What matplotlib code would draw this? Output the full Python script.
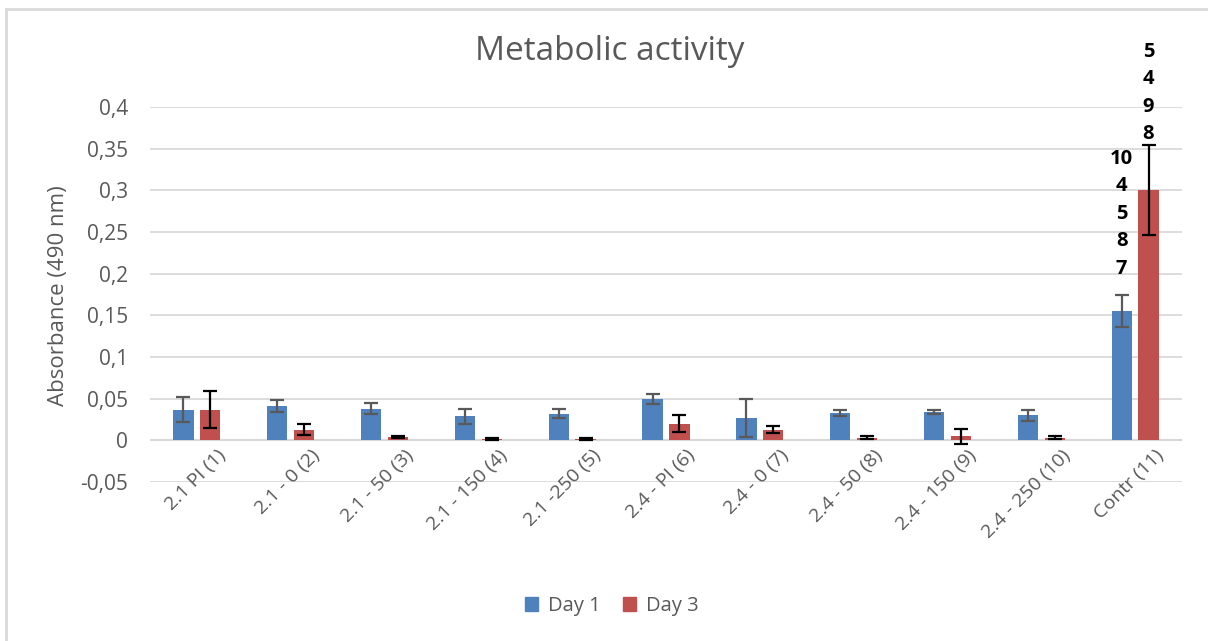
import matplotlib
matplotlib.use("Agg")
import matplotlib.pyplot as plt
import numpy as np
from matplotlib.patches import Patch, Rectangle
from matplotlib.ticker import FuncFormatter, MultipleLocator

samples = ["2.1 PI (1)", "2.1 - 0 (2)", "2.1 - 50 (3)", "2.1 - 150 (4)",
           "2.1 -250 (5)", "2.4 - PI (6)", "2.4 - 0 (7)", "2.4 - 50 (8)",
           "2.4 - 150 (9)", "2.4 - 250 (10)", "Contr (11)"]

day1 = [0.037, 0.041, 0.038, 0.029, 0.032, 0.050, 0.027, 0.033, 0.034, 0.030, 0.155]
day1_err = [0.0145, 0.007, 0.0064, 0.0088, 0.0054, 0.006, 0.023, 0.0034, 0.0026, 0.0064, 0.019]

day3 = [0.037, 0.013, 0.004, 0.002, 0.0016, 0.020, 0.013, 0.0034, 0.005, 0.0034, 0.300]
day3_err = [0.0225, 0.0064, 0.0012, 0.0012, 0.001, 0.0104, 0.004, 0.0015, 0.0092, 0.0015, 0.054]

# groups that differ significantly from the control, per day
day1_marks = ["10", "4", "5", "8", "7"]
day3_marks = ["5", "4", "9", "8"]

BLUE = "#4F81BD"
RED = "#C0504D"
GREY = "#595959"
GRID = "#D9D9D9"
FONT = "Open Sans"


def comma_fmt(val, pos):
    if abs(val) < 1e-9:
        return "0"
    return f"{val:g}".replace(".", ",")


def main():
    fig = plt.figure(figsize=(12.08, 6.41), dpi=100)
    ax = fig.add_axes([150 / 1208, 1 - 482 / 641, (1182 - 150) / 1208, (482 - 107) / 641])

    # chart area frame
    fig.patches.append(Rectangle((6 / 1208, -0.1), 1.2, 1 - 9 / 641 + 0.1,
                                 transform=fig.transFigure, fill=False,
                                 edgecolor=GRID, lw=2))

    x = np.arange(len(samples))
    width = 0.216
    shift = 0.143

    ax.bar(x - shift, day1, width, color=BLUE, zorder=2)
    ax.bar(x + shift, day3, width, color=RED, zorder=2)
    ax.errorbar(x - shift, day1, yerr=day1_err, fmt="none", ecolor=GREY,
                elinewidth=1.6, capsize=4.7, capthick=1.6, zorder=3)
    ax.errorbar(x + shift, day3, yerr=day3_err, fmt="none", ecolor="black",
                elinewidth=1.6, capsize=4.7, capthick=1.6, zorder=3)

    # stacked group numbers above the control bars
    last = len(samples) - 1
    for xpos, val, marks in [(last - shift, day1[last], day1_marks),
                             (last + shift, day3[last], day3_marks)]:
        ax.annotate("\n".join(marks), (xpos, val), xytext=(0, 70),
                    textcoords="offset points", ha="center", va="center",
                    fontsize=14.5, fontweight="bold", family=FONT,
                    linespacing=1.5, annotation_clip=False, zorder=4)

    ax.set_xlim(-0.5, len(samples) - 0.5)
    ax.set_ylim(-0.05, 0.4)
    ax.yaxis.set_major_locator(MultipleLocator(0.05))
    ax.yaxis.set_major_formatter(FuncFormatter(comma_fmt))
    ax.grid(axis="y", color=GRID, lw=1.3, zorder=0)
    ax.set_axisbelow(True)
    for side in ["top", "right", "left", "bottom"]:
        ax.spines[side].set_visible(False)
    ax.axhline(0, color=GRID, lw=1.6, zorder=1)

    ax.tick_params(axis="y", length=0, pad=16, labelsize=15, labelcolor=GREY)
    for lab in ax.get_yticklabels():
        lab.set_family(FONT)

    # category labels sit against the zero line, tilted 45 degrees
    ax.set_xticks([])
    for i, name in enumerate(samples):
        ax.annotate(name, (i, 0), xytext=(19, -9), textcoords="offset points",
                    rotation=45, rotation_mode="anchor", ha="right", va="center",
                    fontsize=14, color=GREY, family=FONT, annotation_clip=False)

    ax.set_ylabel("Absorbance (490 nm)", fontsize=16, color=GREY, family=FONT)
    ax.yaxis.set_label_coords(-81 / 1032, 0.5 - 1 / 375)

    fig.text(610 / 1208, 1 - 52 / 641, "Metabolic activity", ha="center",
             va="center", fontsize=24, color=GREY, family=FONT)

    handles = [Patch(color=BLUE, label="Day 1"), Patch(color=RED, label="Day 3")]
    leg = fig.legend(handles=handles, loc="center", ncol=2,
                     bbox_to_anchor=(612 / 1208, 1 - 606 / 641), frameon=False,
                     handlelength=0.65, handleheight=0.65, handletextpad=0.5,
                     columnspacing=1.1, prop={"family": FONT, "size": 14.5})
    for t in leg.get_texts():
        t.set_color(GREY)

    fig.savefig("out.png", dpi=100, facecolor="white")


if __name__ == "__main__":
    main()
